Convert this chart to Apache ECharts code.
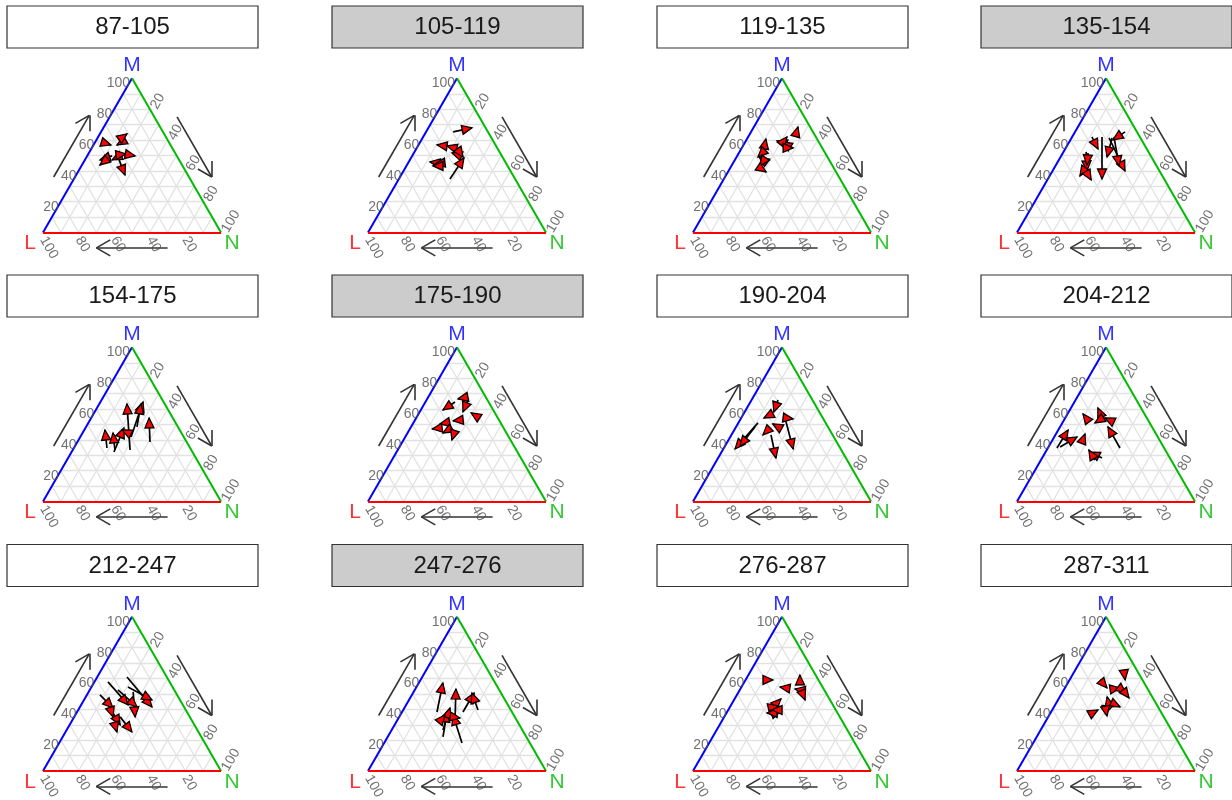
<!DOCTYPE html>
<html><head><meta charset="utf-8">
<script src="https://cdn.jsdelivr.net/npm/echarts@6/dist/echarts.min.js"></script>
<style>html,body{margin:0;padding:0;background:#fff}#c{width:1232px;height:800px}</style>
</head><body><div id="c"></div>
<script>
// ---- data (ternary percentages: M = top, N = right, L = 100 - M - N) ----
const panelTitles = ['87-105','105-119','119-135','135-154','154-175','175-190','190-204','204-212','212-247','247-276','276-287','287-311'];
const panelShaded = [false,true,false,true,false,true,false,false,false,true,false,false];
const gridTicks = [10,20,30,40,50,60,70,80,90];
const labelTicks = [20,40,60,80,100];
const vertexNames = ['L','M','N'];

const fromM = [
 [58.6,59.4,60.1,49.7,47.1,49.0,50.3,51.0,47.1],
 [65.3,56.2,54.9,50.3,52.9,34.7,45.1,45.1,43.2],
 [65.9,54.9,58.1,56.8,58.8,54.9,51.6,47.1,45.1,41.9],
 [62.0,62.0,65.3,61.4,61.4,62.0,52.3,51.6,40.6,39.9],
 [33.4,41.9,48.4,38.6,34.7,33.4,32.1,44.5],
 [67.9,64.6,65.9,55.5,52.9,51.6,47.7,47.1,46.4],
 [65.9,56.2,51.0,48.4,48.4,46.4,43.2,54.2,54.2],
 [57.5,54.2,54.2,52.3,34.7,34.7,35.4,38.6,28.2,26.9],
 [61.0,54.5,57.8,52.6,51.3,49.4,42.9,37.7,31.8,35.1],
 [38.3,35.1,38.3,39.6,22.1,26.6,18.2,35.1,33.1],
 [59.1,53.9,58.4,52.6,49.4,44.2,41.6,38.3,37.7,39.6],
 [64.9,59.1,53.2,52.6,50.0,45.5,43.5,40.9,39.0,36.4]
];
const fromN = [
 [3.8,15.8,12.6,14.0,11.9,17.6,16.4,20.0,19.2],
 [15.2,14.6,20.9,25.4,24.6,28.7,16.2,19.0,18.8],
 [25.4,12.5,21.5,24.4,21.2,26.0,13.0,15.8,16.2,16.7],
 [11.1,16.8,28.1,22.7,21.0,23.5,12.7,14.1,17.3,18.8],
 [32.2,28.5,28.6,40.8,18.6,23.7,23.8,25.6],
 [22.3,16.6,23.2,32.9,26.3,20.3,16.5,22.6,25.7],
 [14.8,15.2,11.0,10.6,23.6,18.9,22.2,24.6,25.1],
 [17.9,11.7,21.2,26.7,40.5,5.1,6.5,17.2,33.7,30.3],
 [16.7,20.5,7.6,15.8,25.0,7.3,15.7,20.5,24.0,25.8],
 [19.6,31.4,34.2,42.0,31.1,28.8,43.7,30.3,24.4],
 [12.1,25.2,30.9,33.8,37.1,25.1,24.7,28.6,25.6,26.3],
 [27.6,17.1,27.3,32.7,36.2,28.4,32.7,30.6,30.5,22.2]
];
const toM = [
 [56.8,56.8,64.0,47.1,43.8,47.1,51.0,49.7,37.3],
 [67.9,56.8,56.2,51.6,49.0,48.4,45.8,44.5,43.2],
 [68.5,60.7,59.4,58.8,62.0,54.9,49.0,49.0,43.2,39.3],
 [54.2,34.7,60.1,49.0,39.9,43.2,39.9,43.8,36.7,34.1],
 [63.3,64.6,63.3,54.2,46.4,44.5,47.7,46.4],
 [66.6,59.4,58.1,57.5,52.3,50.3,47.1,44.5,39.9],
 [58.1,54.2,34.1,36.0,50.3,43.2,28.2,34.1,53.6],
 [60.7,56.8,51.0,54.2,48.4,46.4,41.9,43.8,32.1,33.4],
 [41.6,46.1,42.9,41.6,35.1,40.9,35.1,29.9,25.3,25.3],
 [57.1,53.2,50.6,50.6,38.3,40.9,36.4,34.4,36.4],
 [59.1,54.5,62.3,53.2,46.1,46.8,42.2,39.0,37.7,39.6],
 [59.1,53.9,53.9,50.6,47.4,48.1,41.6,42.2,35.7,39.6]
];
const toN = [
 [9.8,13.2,15.2,8.5,10.1,15.3,21.1,26.9,27.4],
 [24.5,10.4,16.3,21.4,28.9,29.7,11.9,15.4,14.9],
 [24.7,10.6,17.5,20.6,21.8,28.8,12.0,12.6,16.0,21.4],
 [18.4,30.4,23.9,26.1,40.7,35.7,19.3,17.4,17.0,24.6],
 [15.5,23.9,23.4,32.5,11.6,17.1,21.6,21.2],
 [17.3,12.4,24.3,29.2,21.7,15.2,12.5,19.9,27.2],
 [16.4,12.8,6.6,8.4,19.7,17.7,32.5,39.2,29.4],
 [15.1,8.7,18.3,22.3,26.9,5.5,12.8,16.3,24.9,23.7],
 [40.4,38.2,26.4,32.0,34.2,18.8,21.8,28.4,28.9,37.3],
 [13.5,22.8,34.3,33.1,25.2,25.6,29.6,34.5,25.1],
 [15.4,21.6,28.9,30.7,39.9,26.0,26.7,29.9,22.8,24.6],
 [31.2,23.6,30.9,35.9,39.2,26.6,37.1,32.8,32.7,25.7]
];
// axis direction arrows [M, N] (outside the triangle)
const axisArrowFrom = [[36,-12],[75,37.8],[-10,75]];
const axisArrowTo   = [[76,-12],[36,76.8],[-10,35]];

// ---- layout ----
const S = 1.78;                 // px per ternary unit
const colX = [43, 368, 693, 1017];
const rowY = [232.5, 501.5, 771];
const XMIN = -20, XMAX = 115, YMIN = -16, YMAX = 100;
const H3 = Math.sqrt(3) / 2;
const xy = (M, N) => [N + M / 2, M * H3];

const FONT = 'Liberation Sans, Arial, sans-serif';
const RED = '#ff0000', BLUE = '#0000ff', GREEN = '#00bb00';

const grids = [], xAxes = [], yAxes = [], series = [], graphics = [];

function armPts(p0, p1, len) {
  const dx = p1[0] - p0[0], dy = p1[1] - p0[1], d = Math.hypot(dx, dy);
  const ux = -dx / d, uy = -dy / d, a = Math.PI / 6;
  const r = (s) => [p1[0] + len * (ux * Math.cos(s) - uy * Math.sin(s)), p1[1] + len * (ux * Math.sin(s) + uy * Math.cos(s))];
  return [r(a), r(-a)];
}

panelTitles.forEach((title, i) => {
  const c = i % 4, r = Math.floor(i / 4);
  const x0 = colX[c], yb = rowY[r];
  grids.push({ left: x0 + XMIN * S, top: yb - YMAX * S, width: (XMAX - XMIN) * S, height: (YMAX - YMIN) * S });
  xAxes.push({ gridIndex: i, type: 'value', min: XMIN, max: XMAX, show: false });
  yAxes.push({ gridIndex: i, type: 'value', min: YMIN, max: YMAX, show: false });
  const base = { xAxisIndex: i, yAxisIndex: i, silent: true, animation: false };

  // grid lines
  const gl = [];
  gridTicks.forEach(k => {
    gl.push({ coords: [xy(k, 0), xy(k, 100 - k)] });          // const M
    gl.push({ coords: [xy(0, k), xy(100 - k, k)] });          // const N
    gl.push({ coords: [xy(0, 100 - k), xy(100 - k, 0)] });    // const L
  });
  series.push(Object.assign({ type: 'lines', coordinateSystem: 'cartesian2d', data: gl, z: 1,
    lineStyle: { color: '#e2e2e2', width: 1.3, opacity: 1 } }, base));

  // triangle edges
  series.push(Object.assign({ type: 'lines', coordinateSystem: 'cartesian2d', z: 2, lineStyle: { width: 2, opacity: 1 },
    data: [
      { coords: [xy(0, 0), xy(100, 0)], lineStyle: { color: BLUE, width: 2 } },
      { coords: [xy(100, 0), xy(0, 100)], lineStyle: { color: GREEN, width: 2 } },
      { coords: [xy(0, 100), xy(0, 0)], lineStyle: { color: RED, width: 2 } }
    ] }, base));

  // tick labels
  const lab = [];
  labelTicks.forEach(k => {
    lab.push({ value: xy(k, 0), label: { formatter: String(k), position: [-2, 5], align: 'right', verticalAlign: 'middle' } });
    lab.push({ value: xy(0, 100 - k), label: { formatter: String(k), position: [0, 5], align: 'left', verticalAlign: 'middle', rotate: -60 } });
    lab.push({ value: xy(100 - k, k), label: { formatter: String(k), position: [4, -1], align: 'left', verticalAlign: 'middle', rotate: 60 } });
  });
  series.push(Object.assign({ type: 'scatter', symbolSize: 0, clip: false, z: 3, data: lab,
    label: { show: true, color: '#4d4d4d', fontSize: 14, fontFamily: FONT } }, base));

  // vertex names
  series.push(Object.assign({ type: 'scatter', symbolSize: 0, clip: false, z: 3,
    label: { show: true, fontSize: 21, fontFamily: FONT, align: 'center', verticalAlign: 'middle' },
    data: [
      { value: xy(0, 0), label: { formatter: vertexNames[0], color: RED, position: [-13, 11] } },
      { value: xy(100, 0), label: { formatter: vertexNames[1], color: BLUE, position: [0, -13] } },
      { value: xy(0, 100), label: { formatter: vertexNames[2], color: GREEN, position: [11, 11] } }
    ] }, base));

  // axis direction arrows
  const aa = [];
  axisArrowFrom.forEach((f, j) => {
    const p0 = xy(f[0], f[1]), p1 = xy(axisArrowTo[j][0], axisArrowTo[j][1]);
    aa.push({ coords: [p0, p1] });
    armPts(p0, p1, 16 / S).forEach(q => aa.push({ coords: [p1, q] }));
  });
  series.push(Object.assign({ type: 'lines', coordinateSystem: 'cartesian2d', z: 3, data: aa,
    lineStyle: { color: '#333333', width: 1.6, opacity: 1 } }, base));

  // data arrows
  const segs = [], heads = [];
  const HL = 10, HW = 9;
  fromM[i].forEach((m, j) => {
    const p0 = xy(m, fromN[i][j]), p1 = xy(toM[i][j], toN[i][j]);
    segs.push({ coords: [p0, p1] });
    const dx = p1[0] - p0[0], dy = p1[1] - p0[1], d = Math.hypot(dx, dy) || 1;
    const ang = Math.atan2(dy, dx) * 180 / Math.PI;
    const back = HL / 2 / S;
    heads.push({ value: [p1[0] - dx / d * back, p1[1] - dy / d * back], symbolRotate: ang - 90 });
  });
  series.push(Object.assign({ type: 'lines', coordinateSystem: 'cartesian2d', z: 4, data: segs,
    lineStyle: { color: '#000000', width: 1.7, opacity: 1 } }, base));
  series.push(Object.assign({ type: 'scatter', z: 5, clip: false, symbol: 'triangle', symbolSize: [HW, HL], data: heads,
    itemStyle: { color: RED, borderColor: '#000000', borderWidth: 1.3, opacity: 1 } }, base));

  // strip title
  graphics.push({ type: 'rect', shape: { x: x0 - 36, y: yb - 226.5, width: 251, height: 42 },
    style: { fill: panelShaded[i] ? '#cccccc' : '#ffffff', stroke: '#333333', lineWidth: 1.2 }, silent: true });
  graphics.push({ type: 'text', x: x0 + 89.5, y: yb - 205, silent: true,
    style: { text: title, fill: '#1a1a1a', font: '24px ' + FONT, align: 'center', verticalAlign: 'middle' } });
});

const chart = echarts.init(document.getElementById('c'), null, { renderer: 'canvas' });
chart.setOption({ animation: false, backgroundColor: '#ffffff', grid: grids, xAxis: xAxes, yAxis: yAxes, series: series, graphic: graphics });
</script></body></html>
